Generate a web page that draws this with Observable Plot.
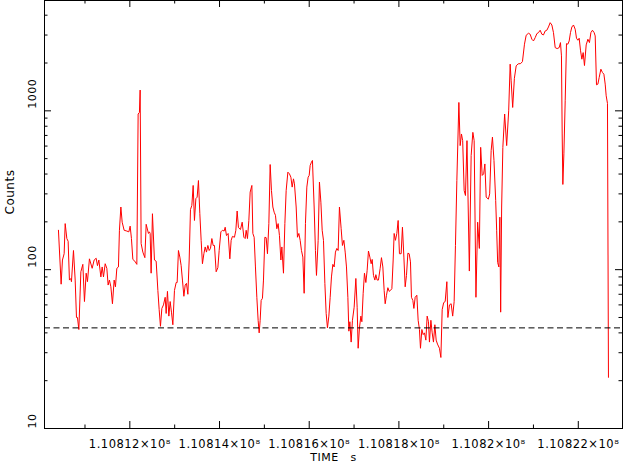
<!DOCTYPE html>
<html><head><meta charset="utf-8">
<script src="https://cdn.jsdelivr.net/npm/d3@7"></script>
<script src="https://cdn.jsdelivr.net/npm/@observablehq/plot@0.6"></script>
<style>
html,body{margin:0;padding:0;background:#fff;}
#chart svg{display:block;}
#chart svg text{letter-spacing:0.5px;}
</style>
</head><body><div id="chart"></div>
<script>
const time = [
110810408,110810468,110810497,110810535,110810558,110810595,110810624,110810653,110810685,110810698,
110810743,110810781,110810810,110810832,110810863,110810908,110810952,110810988,110811026,110811055,
110811099,110811160,110811204,110811249,110811278,110811309,110811354,110811383,110811412,110811450,
110811487,110811516,110811545,110811577,110811612,110811650,110811679,110811710,110811746,110811768,
110811800,110811829,110811873,110811933,110811978,110812007,110812036,110812067,110812112,110812156,
110812185,110812214,110812230,110812252,110812290,110812335,110812364,110812415,110812437,110812453,
110812475,110812504,110812549,110812587,110812625,110812654,110812683,110812714,110812750,110812788,
110812810,110812839,110812870,110812899,110812928,110812959,110812995,110813033,110813055,110813084,
110813115,110813144,110813173,110813205,110813234,110813263,110813294,110813323,110813352,110813383,
110813412,110813441,110813472,110813501,110813530,110813561,110813590,110813619,110813651,110813680,
110813709,110813740,110813769,110813798,110813829,110813858,110813887,110813925,110813963,110813992,
110814030,110814065,110814103,110814126,110814155,110814192,110814230,110814259,110814288,110814333,
110814364,110814393,110814422,110814467,110814505,110814543,110814572,110814594,110814623,110814654,
110814683,110814721,110814743,110814772,110814801,110814832,110814861,110814884,110814906,110814928,
110814957,110814980,110815011,110815040,110815069,110815100,110815129,110815158,110815189,110815218,
110815247,110815278,110815307,110815336,110815368,110815390,110815426,110815457,110815486,110815524,
110815559,110815591,110815620,110815649,110815671,110815709,110815738,110815769,110815798,110815827,
110815858,110815887,110815916,110815947,110815976,110815999,110816021,110816050,110816072,110816110,
110816139,110816162,110816199,110816228,110816260,110816289,110816318,110816349,110816378,110816407,
110816438,110816467,110816496,110816527,110816556,110816585,110816616,110816645,110816674,110816712,
110816741,110816773,110816802,110816831,110816862,110816884,110816906,110816935,110816964,110817002,
110817040,110817069,110817091,110817120,110817152,110817174,110817203,110817232,110817263,110817292,
110817321,110817352,110817381,110817404,110817433,110817464,110817486,110817515,110817544,110817582,
110817611,110817642,110817671,110817694,110817723,110817754,110817783,110817812,110817843,110817872,
110817894,110817923,110817954,110817983,110818012,110818050,110818079,110818111,110818140,110818169,
110818200,110818229,110818258,110818280,110818311,110818334,110818363,110818400,110818429,110818458,
110818481,110818512,110818541,110818570,110818601,110818630,110818659,110818681,110818713,110818742,
110818771,110818802,110818831,110818860,110818904,110818936,110818965,110818998,110819032,110819069,
110819092,110819127,110819165,110819199,110819232,110819261,110819292,110819337,110819366,110819395,
110819422,110819455,110819484,110819518,110819571,110819611,110819649,110819678,110819718,110819756,
110819794,110819823,110819857,110819890,110819917,110819946,110819995,110820024,110820057,110820086,
110820120,110820158,110820180,110820202,110820229,110820251,110820269,110820291,110820318,110820358,
110820403,110820448,110820481,110820503,110820537,110820575,110820615,110820659,110820715,110820755,
110820800,110820838,110820889,110820927,110820965,110821001,110821039,110821076,110821112,110821150,
110821188,110821224,110821262,110821299,110821335,110821373,110821411,110821447,110821485,110821529,
110821574,110821603,110821625,110821641,110821656,110821679,110821708,110821737,110821768,110821797,
110821826,110821857,110821893,110821931,110821960,110821991,110822020,110822049,110822080,110822109,
110822138,110822176,110822214,110822249,110822281,110822316,110822354,110822377,110822406,110822437,
110822466,110822504,110822539,110822571,110822600,110822622,110822651,110822673
];
const counts = [
177,81,115,126,195,157,151,86,88,84,
132,86,50,50,42,97,108,63,95,84,
117,102,115,118,106,115,90,104,90,109,
102,80,86,78,61,86,78,102,104,177,
248,199,177,175,173,188,157,116,113,108,
955,977,1351,146,129,119,193,169,173,169,
95,225,115,113,74,56,44,57,60,67,
53,73,51,63,54,45,74,83,83,132,
120,106,86,68,80,82,70,115,239,254,
339,204,280,286,364,225,153,109,126,139,
129,142,132,136,157,142,142,97,103,132,
173,177,175,185,164,169,117,153,162,160,
177,234,184,179,199,160,157,177,157,204,
308,339,169,160,104,67,48,40,48,64,
66,86,160,159,126,195,459,315,248,230,
220,181,195,164,115,139,95,195,315,411,
401,382,331,373,347,248,160,169,153,132,
120,71,195,331,382,392,453,475,487,248,
132,92,153,356,266,177,153,82,53,43,
51,67,90,108,104,129,136,132,248,181,
142,153,129,104,67,41,47,35,48,58,
88,58,32,43,51,47,71,95,83,99,
131,120,109,116,92,86,93,86,86,102,
119,104,74,61,69,77,73,74,76,115,
169,153,169,204,126,126,185,120,78,92,
127,126,112,67,64,57,67,69,48,42,
32,42,39,40,36,51,47,35,48,40,
35,45,36,34,32,28,56,62,63,84,
50,60,61,51,63,142,364,1129,604,715,
649,315,293,649,98,523,732,649,67,199,
136,589,392,401,463,286,278,300,562,683,
487,273,177,111,104,214,54,248,589,955,
604,1000,1967,1545,1050,1602,1919,1976,1984,2042,
2627,2991,3079,3035,2823,2754,2889,3062,3106,3216,
3035,3004,3184,3216,3372,3589,3471,3106,2500,2465,
2500,2688,2218,715,344,536,1157,2649,2627,2754,
3106,3372,3471,3263,2864,2782,2864,2408,2114,2326,
1928,2600,2823,2688,3106,3216,3106,2961,1458,1473,
1621,1829,1742,1702,1473,1244,1113,21
];
const threshold = 43;
const xMajorTicks = [110812000,110814000,110816000,110818000,110820000,110822000];
const xMinorTicks = [110811000,110813000,110815000,110817000,110819000,110821000];
const xTickLabels = ["1.10812×10⁸","1.10814×10⁸","1.10816×10⁸","1.10818×10⁸","1.1082×10⁸","1.10822×10⁸"];
const yMajorTicks = [10,100,1000];
const yMinorTicks = [20,30,40,50,60,70,80,90,200,300,400,500,600,700,800,900,2000,3000,4000];
const yTickLabels = ["10","100","1000"];
const xLabel = "TIME\u00a0\u00a0\u00a0s";
const yLabel = "Counts";

const W = 623, H = 464;
const mL = 44, mR = 1, mT = 0, mB = 36;
const innerW = W - mL - mR, innerH = H - mT - mB;
const majorLen = 7, minorLen = 3.5;

const data = time.map((t, i) => ({t, c: counts[i]}));
const yLabelData = yMajorTicks.map((v, i) => ({v, label: yTickLabels[i]}));

const chart = Plot.plot({
  width: W, height: H,
  marginLeft: mL, marginRight: mR, marginTop: mT, marginBottom: mB,
  style: {fontFamily: "DejaVu Sans", fontSize: "12px", background: "#fff", color: "#000"},
  x: {type: "linear", domain: [110810097, 110822986], axis: null},
  y: {type: "log", domain: [10, 4950], axis: null},
  marks: [
    Plot.line(data, {x: "t", y: "c", stroke: "#ff0000", strokeWidth: 1}),
    Plot.ruleY([threshold], {stroke: "#000", strokeWidth: 1, strokeDasharray: "6,3.5"}),
    Plot.frame({stroke: "#000", strokeWidth: 1}),
    Plot.tickX(xMajorTicks, {x: d => d, insetTop: innerH - majorLen, stroke: "#000"}),
    Plot.tickX(xMajorTicks, {x: d => d, insetBottom: innerH - majorLen, stroke: "#000"}),
    Plot.tickX(xMinorTicks, {x: d => d, insetTop: innerH - minorLen, stroke: "#000"}),
    Plot.tickX(xMinorTicks, {x: d => d, insetBottom: innerH - minorLen, stroke: "#000"}),
    Plot.tickY(yMajorTicks, {y: d => d, insetRight: innerW - majorLen, stroke: "#000"}),
    Plot.tickY(yMajorTicks, {y: d => d, insetLeft: innerW - majorLen, stroke: "#000"}),
    Plot.tickY(yMinorTicks, {y: d => d, insetRight: innerW - minorLen, stroke: "#000"}),
    Plot.tickY(yMinorTicks, {y: d => d, insetLeft: innerW - minorLen, stroke: "#000"}),
    Plot.text(xMajorTicks, {x: d => d, text: (d, i) => xTickLabels[i], frameAnchor: "bottom", lineAnchor: "top", dy: 11.5, fill: "#000", fontSize: 11.5}),
    Plot.text(yLabelData.filter(d => d.v === 10), {y: "v", text: "label", frameAnchor: "left", dx: -12.5, rotate: -90, textAnchor: "start", lineAnchor: "middle", fill: "#000", fontSize: 11}),
    Plot.text(yLabelData.filter(d => d.v !== 10), {y: "v", text: "label", frameAnchor: "left", dx: -12.5, dy: -2, rotate: -90, lineAnchor: "middle", fill: "#000", fontSize: 11}),
    Plot.text([xLabel], {text: d => d, frameAnchor: "bottom", lineAnchor: "top", dy: 24.5, fill: "#000", fontSize: 11}),
    Plot.text([yLabel], {text: d => d, frameAnchor: "left", dx: -34.5, rotate: -90, lineAnchor: "middle", fill: "#000", fontSize: 12})
  ]
});
document.getElementById("chart").appendChild(chart);
</script>
</body></html>
